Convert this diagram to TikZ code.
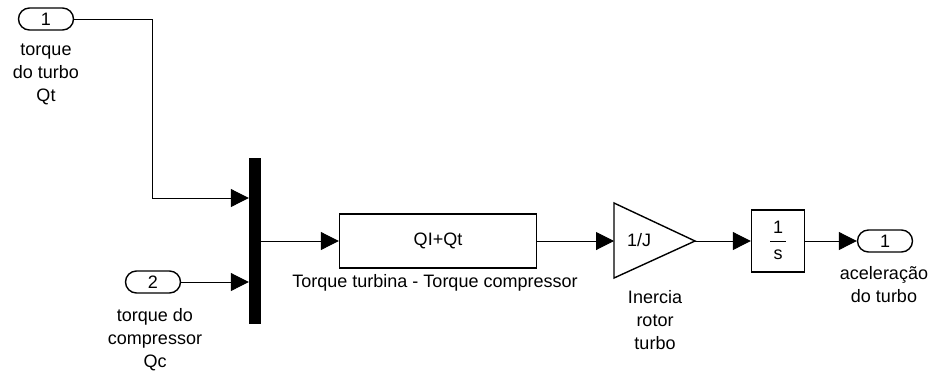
\documentclass[tikz,border=0pt]{standalone}
\usepackage{fontspec}
\setmainfont{Liberation Sans}
\usetikzlibrary{arrows.meta,positioning}

\begin{document}
\begin{tikzpicture}[x=1pt, y=-1pt, >={Triangle[length=18pt,width=18pt]},
    font=\fontsize{18}{23}\selectfont,
    port/.style={draw, line width=1.4pt, rounded corners=11pt, minimum width=55pt, minimum height=22pt, inner sep=0pt},
    blk/.style={draw, line width=1.4pt, inner sep=0pt},
    lbl/.style={align=center, inner sep=0pt},
    sig/.style={line width=1pt}]

  \useasboundingbox (0,0) rectangle (931,376);

  % ===== inports =====
  \node[port] (in1) at (46,19) {1};
  \node[lbl] (in1lbl) at (46,74) {torque\\do turbo\\Qt};
  \node[port] (in2) at (153,282) {2};
  \node[lbl] (in2lbl) at (155,340) {torque do\\compressor\\Qc};

  % ===== mux bar =====
  \node[fill=black, minimum width=12pt, minimum height=166pt, inner sep=0pt] (mux) at (255,241) {};
  \coordinate (bend) at (152,198);

  % ===== sum block =====
  \node[blk, minimum width=197pt, minimum height=54pt] (sum) at (438,241) {QI+Qt};
  \node[lbl] (sumlbl) at (435,283) {Torque turbina - Torque compressor};

  % ===== gain 1/J =====
  \coordinate (gin) at (614,241);
  \coordinate (gout) at (695,241);
  \draw[blk] (614,203) -- (gout) -- (614,278) -- cycle;
  \node[lbl] (gaintxt) at (639,240) {1/J};
  \node[lbl] (gainlbl) at (655,320) {Inercia\\rotor\\turbo};

  % ===== integrator =====
  \node[blk, minimum width=53pt, minimum height=62pt] (integ) at (778,241) {};
  \node[lbl] (num) at (778,227) {1};
  \node[lbl] (den) at (778,255) {s};
  \draw[line width=0.9pt] (770,241) -- (786,241);

  % ===== outport =====
  \node[port] (out1) at (885,241) {1};
  \node[lbl] (out1lbl) at (884,285) {aceleração\\do turbo};

  % ===== signal lines =====
  \draw[sig,->] (in1.east) -| (bend) -- (bend -| mux.west);
  \draw[sig,->] (in2.east) -- (in2.east -| mux.west);
  \draw[sig,->] (mux.east) -- (sum.west);
  \draw[sig,->] (sum.east) -- (gin);
  \draw[sig,->] (gout) -- (integ.west);
  \draw[sig,->] (integ.east) -- (out1.west);

\end{tikzpicture}
\end{document}
